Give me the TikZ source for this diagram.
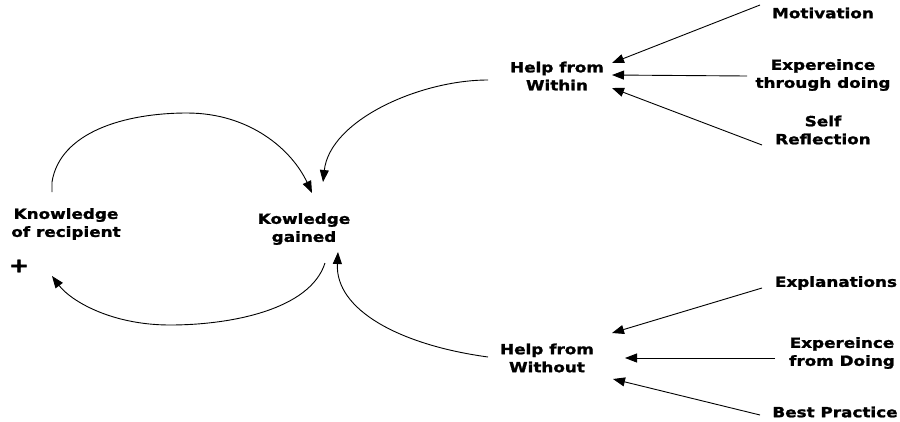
\documentclass[tikz,border=0pt]{standalone}
\usepackage{fontspec}
\setmainfont{DejaVu Sans}[FakeStretch=1.2,BoldFeatures={FakeBold=1.5}]
\usetikzlibrary{arrows.meta}
\begin{document}
\begin{tikzpicture}[x=1pt,y=-1pt,
  lbl/.style={inner sep=0pt,align=center,font=\fontsize{14}{18}\selectfont\bfseries},
  conn/.style={line width=0.9pt,-{Triangle[length=12pt,width=9pt]}}]
\useasboundingbox (0,0) rectangle (900,421);
\node[lbl] (kr) at (66,224) {Knowledge\\of recipient};
\node[lbl,font=\fontsize{20}{20}\selectfont\bfseries] (plus) at (19,266) {+};
\node[lbl] (kg) at (304,229) {Kowledge\\gained};
\node[lbl] (hw) at (557,76) {Help from\\Within};
\node[lbl] (hwo) at (547,358) {Help from\\Without};
\node[lbl] (mot) at (823,13) {Motivation};
\node[lbl] (etd) at (823,75) {Expereince\\through doing};
\node[lbl] (sr) at (823,130) {Self\\Reflection};
\node[lbl] (exp) at (836,283) {Explanations};
\node[lbl] (efd) at (842,353) {Expereince\\from Doing};
\node[lbl] (bp) at (835,412) {Best Practice};
% right side
\draw[conn] ([shift={(-63,-8)}]mot.center) -- ([shift={(55,-13)}]hw.center);
\draw[conn] ([shift={(-76,1)}]etd.center) -- ([shift={(55,-1)}]hw.center);
\draw[conn] ([shift={(-61,15)}]sr.center) -- ([shift={(55,12)}]hw.center);
\draw[conn] ([shift={(-74,5)}]exp.center) -- ([shift={(65,-25)}]hwo.center);
\draw[conn] ([shift={(-67,5)}]efd.center) -- ([shift={(78,0)}]hwo.center);
\draw[conn] ([shift={(-75,3)}]bp.center) -- ([shift={(66,21)}]hwo.center);
% loops
\draw[conn] ([shift={(-14,-32)}]kr.center) -- ++(0,-10)
  .. controls +(8,-50) and (125,113) .. (187,113)
  .. controls (250,113) and (292,150) .. ([shift={(8,-36)}]kg.center);
\draw[conn] ([shift={(21,34)}]kg.center)
  .. controls +(-15,47) and (230,325) .. (170,325)
  .. controls (110,325) and (70,300) .. ([shift={(-14,52)}]kr.center);
\draw[conn] ([shift={(-69,4)}]hw.center)
  .. controls +(-68,0) and +(7,-62) .. ([shift={(19,-47)}]kg.center);
\draw[conn] ([shift={(-59,-1)}]hwo.center)
  .. controls +(-88,-12) and +(-3,58) .. ([shift={(34,23)}]kg.center);
\end{tikzpicture}
\end{document}
